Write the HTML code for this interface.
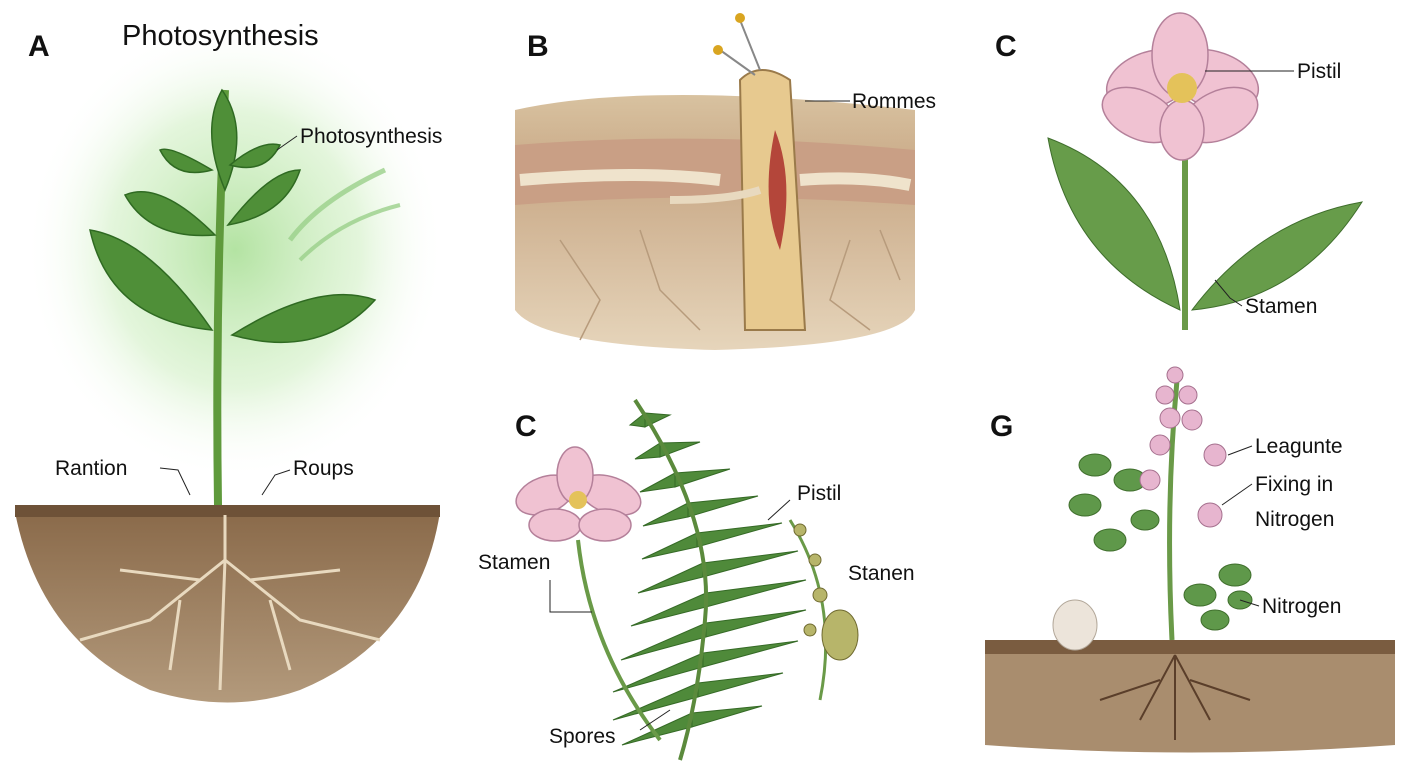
<!DOCTYPE html>
<html><head><meta charset="utf-8"><style>
html,body{margin:0;padding:0;background:#fff;}
svg{display:block;font-family:"Liberation Sans",sans-serif;}
</style></head><body>
<svg width="1408" height="768" viewBox="0 0 1408 768" xmlns="http://www.w3.org/2000/svg">
<defs>
<radialGradient id="glow" cx="50%" cy="50%" r="50%">
<stop offset="0%" stop-color="#a6de92" stop-opacity="0.85"/>
<stop offset="60%" stop-color="#cdeebf" stop-opacity="0.55"/>
<stop offset="100%" stop-color="#ffffff" stop-opacity="0"/>
</radialGradient>
<linearGradient id="soil" x1="0" y1="0" x2="0" y2="1">
<stop offset="0" stop-color="#8a6a4a"/><stop offset="1" stop-color="#b39a7c"/>
</linearGradient>
<linearGradient id="soilB" x1="0" y1="0" x2="0" y2="1">
<stop offset="0" stop-color="#d8c2a0"/><stop offset="0.3" stop-color="#c9a987"/><stop offset="1" stop-color="#e6d5bb"/>
</linearGradient>
</defs>
<rect width="1408" height="768" fill="#fff"/>

<!-- Panel A -->
<ellipse cx="235" cy="250" rx="210" ry="230" fill="url(#glow)"/>
<path d="M15 512 L440 512 Q420 640 300 690 Q230 715 150 690 Q40 640 15 512Z" fill="url(#soil)"/>
<rect x="15" y="505" width="425" height="12" fill="#6e5238"/>
<g stroke="#e8d9bf" stroke-width="3" fill="none">
<path d="M225 515 L225 560 L150 620 L80 640"/><path d="M225 560 L300 620 L380 640"/>
<path d="M225 560 L220 690"/><path d="M200 580 L120 570"/><path d="M250 580 L340 570"/>
<path d="M180 600 L170 670"/><path d="M270 600 L290 670"/>
</g>
<path d="M218 505 Q215 300 225 90" stroke="#5f9a3c" stroke-width="8" fill="none"/>
<g fill="#4f8f38" stroke="#2f6a22" stroke-width="1.5">
<path d="M222 90 Q200 130 225 190 Q250 130 222 90Z"/>
<path d="M215 235 Q160 180 125 195 Q150 240 215 235Z"/>
<path d="M228 225 Q270 170 300 170 Q285 215 228 225Z"/>
<path d="M212 330 Q150 240 90 230 Q110 320 212 330Z"/>
<path d="M232 335 Q320 280 375 300 Q320 360 232 335Z"/>
<path d="M212 170 Q170 145 160 150 Q175 180 212 170Z"/>
<path d="M230 165 Q260 140 280 145 Q265 175 230 165Z"/>
</g>
<path d="M290 240 Q320 200 385 170" stroke="#9ad08a" stroke-width="5" fill="none" opacity="0.8"/>
<path d="M300 260 Q340 220 400 205" stroke="#9ad08a" stroke-width="4" fill="none" opacity="0.8"/>
<text x="28" y="56" font-size="30" font-weight="bold" fill="#111">A</text>
<text x="122" y="45" font-size="29" fill="#111">Photosynthesis</text>
<text x="300" y="143" font-size="21" fill="#111">Photosynthesis</text>
<line x1="297" y1="136" x2="277" y2="150" stroke="#222"/>
<text x="55" y="475" font-size="21" fill="#111">Rantion</text>
<path d="M160 468 L178 470 L190 495" stroke="#222" fill="none"/>
<text x="293" y="475" font-size="21" fill="#111">Roups</text>
<path d="M290 470 L275 475 L262 495" stroke="#222" fill="none"/>

<!-- Panel B -->
<path d="M515 110 Q650 80 915 110 L915 310 Q900 345 715 350 Q540 345 515 310Z" fill="url(#soilB)"/>
<path d="M515 145 Q700 130 915 150 L915 205 Q700 190 515 205Z" fill="#c99f85"/>
<path d="M520 180 Q640 170 720 180 M800 180 Q860 175 910 185" stroke="#efe3cc" stroke-width="12" fill="none"/>
<g stroke="#b79b7c" stroke-width="1.5" fill="none">
<path d="M560 240 L600 300 L580 340"/><path d="M640 230 L660 290 L700 330"/><path d="M850 240 L830 300 L870 330"/><path d="M880 230 L900 280"/>
</g>
<path d="M740 80 Q760 60 790 80 L805 330 L745 330Z" fill="#e7c98f" stroke="#9a7a4a" stroke-width="2"/>
<path d="M775 130 Q795 180 780 250 Q760 200 775 130Z" fill="#b4463a"/>
<path d="M760 70 L740 20 M755 75 L720 50" stroke="#888" stroke-width="2"/>
<circle cx="740" cy="18" r="5" fill="#d9a520"/><circle cx="718" cy="50" r="5" fill="#d9a520"/>
<path d="M670 200 Q730 200 760 190" stroke="#e8d9bf" stroke-width="8" fill="none"/>
<text x="527" y="56" font-size="30" font-weight="bold" fill="#111">B</text>
<text x="852" y="108" font-size="21" fill="#111">Rommes</text>
<line x1="850" y1="101" x2="805" y2="101" stroke="#222"/>

<!-- Panel C top -->
<path d="M1185 150 L1185 330" stroke="#6a9a48" stroke-width="6"/>
<path d="M1180 310 Q1070 260 1048 138 Q1160 180 1180 310Z" fill="#679c4a" stroke="#3f6e2c"/>
<path d="M1192 310 Q1260 220 1362 202 Q1300 300 1192 310Z" fill="#679c4a" stroke="#3f6e2c"/>
<g fill="#f0c2d2" stroke="#b4809a" stroke-width="1.5">
<ellipse cx="1150" cy="80" rx="45" ry="28" transform="rotate(-20 1150 80)"/>
<ellipse cx="1215" cy="80" rx="45" ry="28" transform="rotate(20 1215 80)"/>
<ellipse cx="1180" cy="55" rx="28" ry="42"/>
<ellipse cx="1140" cy="115" rx="40" ry="24" transform="rotate(25 1140 115)"/>
<ellipse cx="1220" cy="115" rx="40" ry="24" transform="rotate(-25 1220 115)"/>
<ellipse cx="1182" cy="130" rx="22" ry="30"/>
</g>
<circle cx="1182" cy="88" r="15" fill="#e4c25a"/>
<text x="995" y="56" font-size="30" font-weight="bold" fill="#111">C</text>
<text x="1297" y="78" font-size="21" fill="#111">Pistil</text>
<line x1="1294" y1="71" x2="1205" y2="71" stroke="#222"/>
<text x="1245" y="313" font-size="21" fill="#111">Stamen</text>
<path d="M1242 306 L1230 298 L1215 280" stroke="#222" fill="none"/>

<!-- Panel C bottom -->
<g fill="#4f8a3a" stroke="#356a26" stroke-width="1">
<polygon points="645,413 630,425 645,427"/><polygon points="645,413 670,415 645,427"/>
<polygon points="660,443 635,459 660,457"/><polygon points="660,443 700,442 660,457"/>
<polygon points="675,473 640,492 675,487"/><polygon points="675,473 730,469 675,487"/>
<polygon points="688,503 643,526 688,517"/><polygon points="688,503 758,496 688,517"/>
<polygon points="697,533 642,559 697,547"/><polygon points="697,533 782,523 697,547"/>
<polygon points="703,563 638,593 703,577"/><polygon points="703,563 798,551 703,577"/>
<polygon points="706,593 631,626 706,607"/><polygon points="706,593 806,580 706,607"/>
<polygon points="706,623 621,660 706,637"/><polygon points="706,623 806,610 706,637"/>
<polygon points="703,653 613,692 703,667"/><polygon points="703,653 798,641 703,667"/>
<polygon points="698,683 613,720 698,697"/><polygon points="698,683 783,673 698,697"/>
<polygon points="692,713 622,745 692,727"/><polygon points="692,713 762,706 692,727"/>
</g>
<path d="M635 400 Q715 520 705 620 Q698 700 680 760" stroke="#5b8a3c" stroke-width="4" fill="none"/>
<path d="M578 540 Q590 650 660 740" stroke="#6a9a48" stroke-width="4" fill="none"/>
<g fill="#f0c2d2" stroke="#b4809a" stroke-width="1.5">
<ellipse cx="545" cy="495" rx="30" ry="18" transform="rotate(-20 545 495)"/>
<ellipse cx="610" cy="495" rx="32" ry="18" transform="rotate(20 610 495)"/>
<ellipse cx="575" cy="475" rx="18" ry="28"/>
<ellipse cx="555" cy="525" rx="26" ry="16"/>
<ellipse cx="605" cy="525" rx="26" ry="16"/>
</g>
<circle cx="578" cy="500" r="9" fill="#e4c25a"/>
<path d="M790 520 Q840 600 820 700" stroke="#6a9a48" stroke-width="3" fill="none"/>
<g fill="#b7b56a" stroke="#6f6a30"><circle cx="800" cy="530" r="6"/><circle cx="815" cy="560" r="6"/><circle cx="820" cy="595" r="7"/><circle cx="810" cy="630" r="6"/><ellipse cx="840" cy="635" rx="18" ry="25"/></g>
<text x="515" y="436" font-size="30" font-weight="bold" fill="#111">C</text>
<text x="797" y="500" font-size="21" fill="#111">Pistil</text>
<line x1="790" y1="500" x2="768" y2="520" stroke="#222"/>
<text x="848" y="580" font-size="21" fill="#111">Stanen</text>
<text x="478" y="569" font-size="21" fill="#111">Stamen</text>
<path d="M550 580 L550 612 L592 612" stroke="#222" fill="none"/>
<text x="549" y="743" font-size="21" fill="#111">Spores</text>
<line x1="640" y1="730" x2="670" y2="710" stroke="#222"/>

<!-- Panel G -->
<path d="M985 645 L1395 645 L1395 745 Q1190 760 985 745Z" fill="#a98d6e"/>
<rect x="985" y="640" width="410" height="14" fill="#7a5c40"/>
<g stroke="#5a3e2a" stroke-width="2" fill="none">
<path d="M1175 655 L1140 720 M1175 655 L1210 720 M1175 655 L1175 740 M1160 680 L1100 700 M1190 680 L1250 700"/>
</g>
<ellipse cx="1075" cy="625" rx="22" ry="25" fill="#ece4da" stroke="#b3a89a"/>
<path d="M1172 640 Q1165 500 1178 370" stroke="#6a9a48" stroke-width="5" fill="none"/>
<g fill="#5f984a" stroke="#3f6e2c">
<ellipse cx="1095" cy="465" rx="16" ry="11"/><ellipse cx="1130" cy="480" rx="16" ry="11"/><ellipse cx="1085" cy="505" rx="16" ry="11"/>
<ellipse cx="1110" cy="540" rx="16" ry="11"/><ellipse cx="1145" cy="520" rx="14" ry="10"/>
<ellipse cx="1200" cy="595" rx="16" ry="11"/><ellipse cx="1235" cy="575" rx="16" ry="11"/><ellipse cx="1215" cy="620" rx="14" ry="10"/>
<ellipse cx="1240" cy="600" rx="12" ry="9"/>
</g>
<g fill="#e7b5cf" stroke="#a5708e">
<circle cx="1175" cy="375" r="8"/><circle cx="1165" cy="395" r="9"/><circle cx="1188" cy="395" r="9"/>
<circle cx="1170" cy="418" r="10"/><circle cx="1192" cy="420" r="10"/><circle cx="1160" cy="445" r="10"/>
<circle cx="1215" cy="455" r="11"/><circle cx="1150" cy="480" r="10"/><circle cx="1210" cy="515" r="12"/>
</g>
<text x="990" y="436" font-size="30" font-weight="bold" fill="#111">G</text>
<text x="1255" y="453" font-size="21" fill="#111">Leagunte</text>
<line x1="1252" y1="446" x2="1228" y2="455" stroke="#222"/>
<text x="1255" y="491" font-size="21" fill="#111">Fixing in</text>
<text x="1255" y="526" font-size="21" fill="#111">Nitrogen</text>
<line x1="1252" y1="484" x2="1222" y2="505" stroke="#222"/>
<text x="1262" y="613" font-size="21" fill="#111">Nitrogen</text>
<line x1="1259" y1="606" x2="1240" y2="600" stroke="#222"/>
</svg>
</body></html>
